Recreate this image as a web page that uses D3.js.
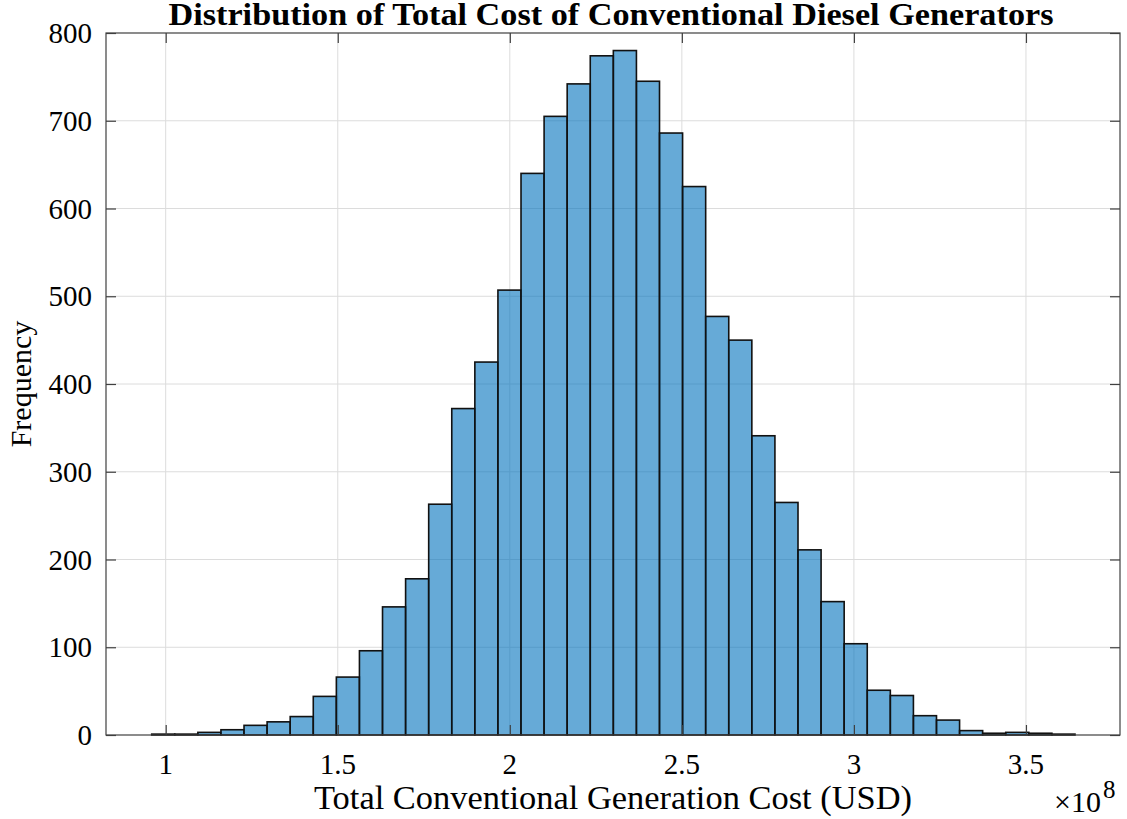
<!DOCTYPE html>
<html>
<head>
<meta charset="utf-8">
<script src="https://cdn.jsdelivr.net/npm/d3@7"></script>
<style>
  body { margin: 0; background: #fff; }
  text { font-family: "Liberation Serif", "Times New Roman", serif; fill: #000; }
</style>
</head>
<body>
<div id="chart"></div>
<script>
// Histogram data (cost in units of 1e8 USD)
const binStart = 0.9593;
const binWidth = 0.06708;
const counts = [1, 1, 3, 6, 11, 15, 21, 44, 66, 96,
                146, 178, 263, 372, 425, 507, 640, 705, 742, 774,
                780, 745, 686, 625, 477, 450, 341, 265, 211, 152,
                104, 51, 45, 22, 17, 5, 2, 3, 2, 1];
const xTicks = [1, 1.5, 2, 2.5, 3, 3.5];
const yTicks = [0, 100, 200, 300, 400, 500, 600, 700, 800];

const titleText = "Distribution of Total Cost of Conventional Diesel Generators";
const xLabelText = "Total Conventional Generation Cost (USD)";
const yLabelText = "Frequency";

let bins = counts.map((c, i) => ({
  x0: binStart + i * binWidth,
  x1: binStart + (i + 1) * binWidth,
  count: c
}));

let chart = {
  width: 1127,
  height: 819,
  left: 106,
  right: 1120,
  top: 33,
  bottom: 735
};

let svg = d3.select("#chart").append("svg")
  .attr("width", chart.width)
  .attr("height", chart.height);

let xScale = d3.scaleLinear()
  .domain([0.8265, 3.7733])
  .range([chart.left, chart.right]);

let yScale = d3.scaleLinear()
  .domain([0, 800])
  .range([chart.bottom, chart.top]);

// Grid lines
svg.append("g").selectAll("line").data(xTicks).enter()
  .append("line")
  .attr("x1", d => xScale(d)).attr("x2", d => xScale(d))
  .attr("y1", chart.top).attr("y2", chart.bottom)
  .attr("stroke", "#dcdcdc").attr("stroke-width", 1);

svg.append("g").selectAll("line").data(yTicks.slice(1, -1)).enter()
  .append("line")
  .attr("x1", chart.left).attr("x2", chart.right)
  .attr("y1", d => yScale(d)).attr("y2", d => yScale(d))
  .attr("stroke", "#dcdcdc").attr("stroke-width", 1);

// Bars
svg.append("g").selectAll("rect").data(bins).enter()
  .append("rect")
  .attr("x", d => xScale(d.x0))
  .attr("width", d => xScale(d.x1) - xScale(d.x0))
  .attr("y", d => yScale(d.count))
  .attr("height", d => yScale(0) - yScale(d.count))
  .attr("fill", "rgb(0,114,189)")
  .attr("fill-opacity", 0.6)
  .attr("stroke", "#111")
  .attr("stroke-width", 1.6);

// Axes (ticks inside, on all four sides like MATLAB box on)
let tickLen = 10;
let xAxisBottom = d3.axisBottom(xScale).tickValues(xTicks)
  .tickSizeInner(-tickLen).tickSizeOuter(0).tickFormat("");
let xAxisTop = d3.axisTop(xScale).tickValues(xTicks)
  .tickSizeInner(-tickLen).tickSizeOuter(0).tickFormat("");
let yAxisLeft = d3.axisLeft(yScale).tickValues(yTicks)
  .tickSizeInner(-tickLen).tickSizeOuter(0).tickFormat("");
let yAxisRight = d3.axisRight(yScale).tickValues(yTicks)
  .tickSizeInner(-tickLen).tickSizeOuter(0).tickFormat("");

let axisStyle = g => {
  g.select(".domain").remove();
  g.selectAll(".tick line").attr("stroke", "#404040").attr("stroke-width", 1.2);
};

svg.append("g").attr("transform", `translate(0, ${chart.bottom})`).call(xAxisBottom).call(axisStyle);
svg.append("g").attr("transform", `translate(0, ${chart.top})`).call(xAxisTop).call(axisStyle);
svg.append("g").attr("transform", `translate(${chart.left}, 0)`).call(yAxisLeft).call(axisStyle);
svg.append("g").attr("transform", `translate(${chart.right}, 0)`).call(yAxisRight).call(axisStyle);

// Box
svg.append("rect")
  .attr("x", chart.left).attr("y", chart.top)
  .attr("width", chart.right - chart.left)
  .attr("height", chart.bottom - chart.top)
  .attr("fill", "none")
  .attr("stroke", "#404040")
  .attr("stroke-width", 1.2);

// Tick labels
svg.append("g").selectAll("text").data(xTicks).enter()
  .append("text")
  .attr("x", d => xScale(d))
  .attr("y", 774)
  .attr("text-anchor", "middle")
  .attr("font-size", 29)
  .text(d => d);

svg.append("g").selectAll("text").data(yTicks).enter()
  .append("text")
  .attr("x", 92)
  .attr("y", d => yScale(d))
  .attr("dy", "0.35em")
  .attr("text-anchor", "end")
  .attr("font-size", 29)
  .text(d => d);

// Exponent label
let expo = svg.append("text")
  .attr("x", 1054)
  .attr("y", 812)
  .attr("font-size", 30);
expo.append("tspan").text("\u00d710");
expo.append("tspan").attr("dx", 2).attr("dy", -14).attr("font-size", 25).text("8");

// Title and axis labels
svg.append("text")
  .attr("x", (chart.left + chart.right) / 2 - 2)
  .attr("y", 25)
  .attr("text-anchor", "middle")
  .attr("font-size", 31)
  .attr("font-weight", "bold")
  .attr("textLength", 885)
  .attr("lengthAdjust", "spacingAndGlyphs")
  .text(titleText);

svg.append("text")
  .attr("x", (chart.left + chart.right) / 2)
  .attr("y", 809)
  .attr("text-anchor", "middle")
  .attr("font-size", 33)
  .attr("textLength", 598)
  .attr("lengthAdjust", "spacingAndGlyphs")
  .text(xLabelText);

svg.append("text")
  .attr("transform", `translate(31, ${(chart.top + chart.bottom) / 2}) rotate(-90)`)
  .attr("text-anchor", "middle")
  .attr("font-size", 30)
  .text(yLabelText);
</script>
</body>
</html>
